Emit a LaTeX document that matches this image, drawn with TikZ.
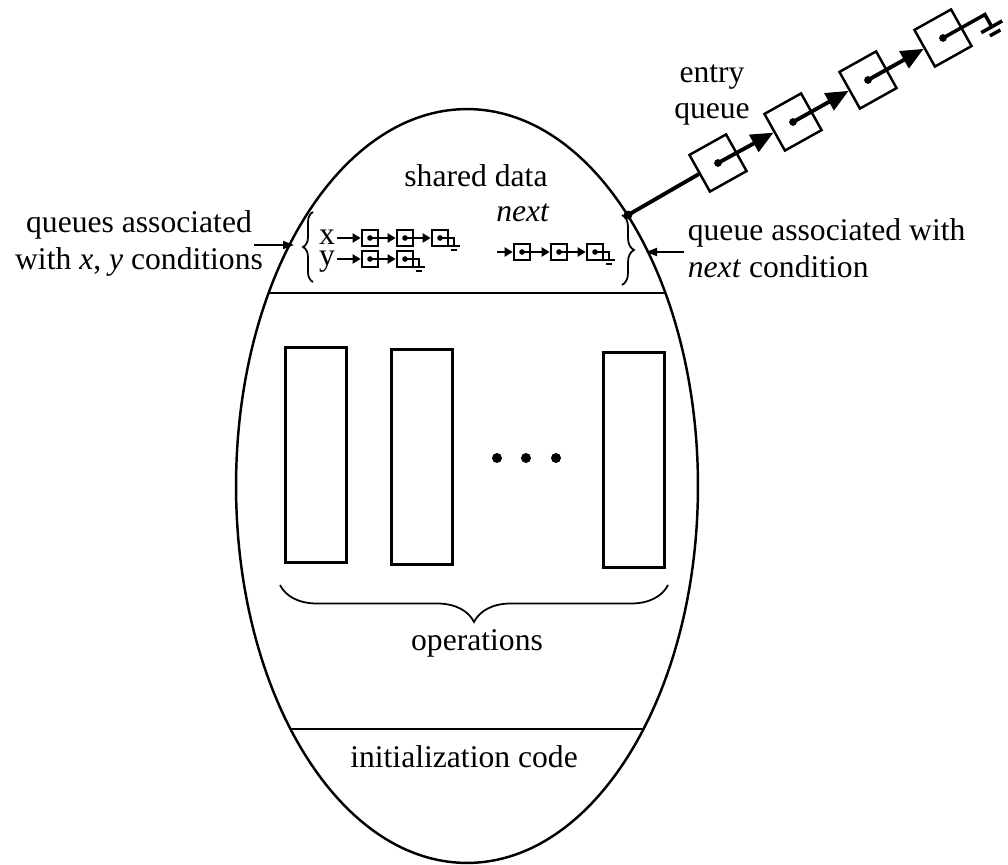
\documentclass[tikz,border=0pt]{standalone}
\usepackage{fontspec}
\setmainfont{Liberation Serif}
\usepackage{tikz}
\usetikzlibrary{shapes.geometric,arrows.meta,decorations.pathreplacing}

\newcommand{\qground}[1]{%
	\fill (#1.center) circle (1.6pt);
	\draw[qline] (#1.center) -- ++(14,0) -- ++(0,8);
	\draw[qline] ([shift={(8,8)}]#1.center) -- ++(12,0);
	\draw[qline] ([shift={(11,12)}]#1.center) -- ++(6,0);
}

\begin{document}
\begin{tikzpicture}[x=0.02cm,y=-0.02cm,
	every node/.style={font=\fontsize{18}{21}\selectfont},
	qbox/.style={draw, line width=1.5pt, minimum size=0.32cm, inner sep=0},
	ebox/.style={draw, line width=1.4pt, minimum size=0.84cm, inner sep=0, rotate=29.2, fill=white},
	opbox/.style={draw, line width=1.2pt, minimum width=1.22cm, minimum height=4.3cm, inner sep=0},
	qline/.style={line width=1.5pt},
	qarrow/.style={qline, -{Triangle[length=0.16cm,width=0.18cm]}},
	earrow/.style={line width=2.2pt, -{Triangle[length=0.45cm,width=0.38cm]}},
	tagarrow/.style={line width=1pt, -{Triangle[length=0.22cm,width=0.16cm]}}
	]
	\fill[white] (0,0) rectangle (1008,865);
	\useasboundingbox (0,0) rectangle (1008,865);
	\node[draw, ellipse, line width=1.4pt, minimum width=9.24cm, minimum height=15.08cm, inner sep=0] (monitor) at (467,486) {};
	\draw[line width=1pt] (269,293) -- (665,293);
	\draw[line width=1pt] (290,729) -- (644,729);

	\node (shared) at (476,176) {shared data};
	\node (nextlbl) at (523,213) {\textit{next}};

	\node[align=center, inner sep=1pt, font=\fontsize{18}{12}\selectfont] (xylbls) at (327,251) {x\\y};
	\foreach \i/\px in {1/370,2/405,3/440}
		\node[qbox] (x\i) at (\px,238) {};
	\foreach \i/\px in {1/370,2/405}
		\node[qbox] (y\i) at (\px,259) {};
	\foreach \i/\px in {1/522,2/559,3/595}
		\node[qbox] (n\i) at (\px,252) {};
	\coordinate (nstart) at (497,252);
	\draw[qarrow] (xylbls.east |- x1.west) -- (x1.west);
	\draw[qarrow] (xylbls.east |- y1.west) -- (y1.west);
	\draw[qarrow] (nstart) -- (n1.west);
	\foreach \i/\j in {1/2,2/3} {
		\fill (x\i.center) circle (1.6pt);
		\draw[qarrow] (x\i.center) -- (x\j.west);
		\fill (n\i.center) circle (1.6pt);
		\draw[qarrow] (n\i.center) -- (n\j.west);
	}
	\fill (y1.center) circle (1.6pt);
	\draw[qarrow] (y1.center) -- (y2.west);
	\qground{x3}
	\qground{y2}
	\qground{n3}

	\draw[line width=1pt, decorate, decoration={brace, amplitude=0.2cm}] (313,282) -- (313,212);
	\draw[line width=1pt, decorate, decoration={brace, amplitude=0.24cm}] (622,215) -- (622,285);

	\node[align=center] (xylbl) at (139,243) {queues associated\\with \textit{x}, \textit{y} conditions};
	\coordinate (xyend) at (294,245);
	\draw[tagarrow] ([xshift=-0.3cm]xylbl.east |- xyend) -- (xyend);
	\node[align=left, anchor=west, inner sep=2pt] (nextq) at (684,248) {queue associated with\\\textit{next} condition};
	\coordinate (nextend) at (646,252);
	\draw[tagarrow] (nextq.west |- nextend) -- (nextend);

	\node[align=center] (entrylbl) at (712,95) {entry\\queue};
	\coordinate (entry) at (628,215);
	\fill (entry) circle (2.5pt);
	\foreach \i/\px/\py in {1/718/163,2/793/122,3/868/80,4/943/38}
		\node[ebox] (e\i) at (\px,\py) {};
	\draw[line width=2.2pt] (entry) -- (e1);
	\foreach \i/\j in {1/2,2/3,3/4} {
		\fill (e\i.center) circle (2.2pt);
		\draw[earrow] (e\i.center) -- (e\j);
	}
	\fill (e4.center) circle (2.2pt);
	\begin{scope}[shift={(e4.center)}, rotate=29.2, line width=2pt]
		\draw (0,0) -- (48,0) -- (48,14);
		\draw (36,14) -- (60,14);
		\draw (42,21) -- (54,21);
	\end{scope}

	\node[opbox] (op1) at (316,455) {};
	\node[opbox] (op2) at (422,457) {};
	\node[opbox] (opn) at (634,460) {};
	\foreach \px in {497,526,556}
		\fill (\px,458) circle (0.1cm);
	\draw[line width=1pt, decorate, decoration={brace, amplitude=0.74cm}] (668,585) -- (280,585);
	\node (ops) at (477,643) {operations};
	\node (init) at (464,757) {initialization code};
\end{tikzpicture}
\end{document}
